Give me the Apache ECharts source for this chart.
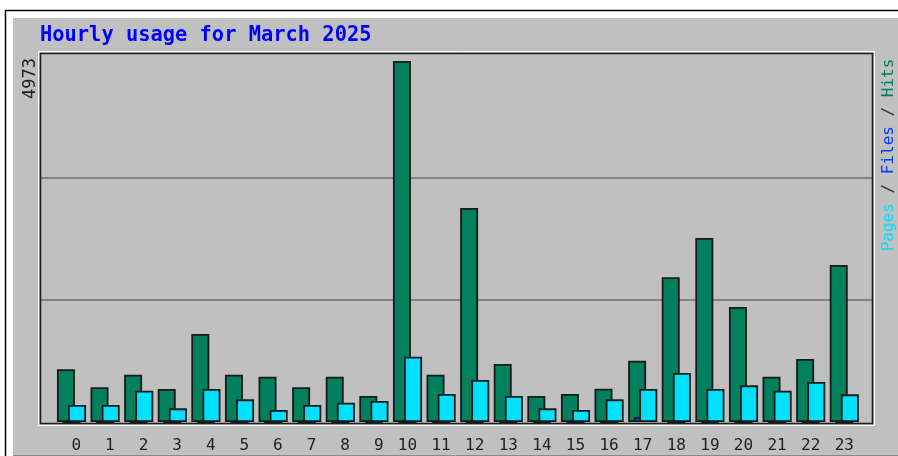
<!DOCTYPE html>
<html>
<head>
<meta charset="utf-8">
<script src="https://cdn.jsdelivr.net/npm/echarts@6/dist/echarts.min.js"></script>
<style>
body{margin:0;background:#fff;}
#chart{width:898px;height:456px;}
</style>
</head>
<body>
<div id="chart"></div>
<script>
/* ===== data ===== */

const hours=["0","1","2","3","4","5","6","7","8","9","10","11",
"12","13","14","15","16","17","18","19","20","21","22","23"];

const hits=[726,478,652,455,1212,652,624,478,624,358,4973,652,
2948,799,358,386,459,845,1993,2535,1584,624,868,2163];

const files=[0,0,0,0,0,0,0,0,0,0,0,0,
0,0,0,0,0,70,0,0,0,0,0,0];

const pages=[234,234,431,188,455,312,165,234,266,289,900,386,
579,358,188,165,312,455,675,455,505,431,551,381];

const maxLabel="4973";

const yMax=5055;


/* ===== chart ===== */

let chart=echarts.init(document.getElementById("chart"));

const mono="DejaVu Sans Mono";

function bar(name,data,color){
return {
name:name,
type:"bar",
xAxisIndex:1,
yAxisIndex:1,
data:data,
barWidth:18,
barGap:"-69%",
itemStyle:{color:color,borderColor:"#1a1a1a",borderWidth:1.8},
animation:false
};
}

chart.setOption({

backgroundColor:"#fff",

graphic:[
// outer frame
{type:"rect",z:0,shape:{x:13,y:18,width:890,height:437},style:{fill:"#c0c0c0"}},
{type:"line",z:1,shape:{x1:5,y1:10.5,x2:898,y2:10.5},style:{stroke:"#000",lineWidth:1.5}},
{type:"line",z:1,shape:{x1:5.5,y1:10,x2:5.5,y2:456},style:{stroke:"#000",lineWidth:1.5}},
{type:"line",z:1,shape:{x1:13,y1:455.5,x2:898,y2:455.5},style:{stroke:"#8a8a8a",lineWidth:1}},
// plot box
{type:"rect",z:100,shape:{x:38.5,y:51.5,width:836,height:374},style:{fill:null,stroke:"#fff",lineWidth:1}},
{type:"rect",z:100,shape:{x:40.5,y:53.5,width:832,height:370},style:{fill:null,stroke:"#1e1e1e",lineWidth:1.6}},
// title
{type:"text",z:100,x:40,y:36,style:{text:"Hourly usage for March 2025",font:"bold 20.4px "+mono,fill:"#0000ff",verticalAlign:"middle"}},
// max value
{type:"text",z:100,x:31,y:78.5,rotation:Math.PI/2,style:{text:maxLabel,font:"17px "+mono,fill:"#222",align:"center",verticalAlign:"middle"}},
// legend
{type:"text",z:100,x:889,y:155,rotation:Math.PI/2,style:{
text:"{p|Pages} {s|/} {f|Files} {s|/} {h|Hits}",
font:"16px "+mono,align:"center",verticalAlign:"middle",
rich:{
p:{fill:"#00e0ff",font:"16px "+mono},
s:{fill:"#333",font:"16px "+mono},
f:{fill:"#0040ff",font:"16px "+mono},
h:{fill:"#00805c",font:"16px "+mono}
}}}
],

grid:[
{left:41,right:26,top:55,bottom:34},
{left:54.7,right:36.9,top:55,bottom:34}
],

xAxis:[
{gridIndex:0,type:"value",min:0,max:1,show:false},
{gridIndex:1,type:"category",data:hours,
axisLine:{show:false},axisTick:{show:false},
axisLabel:{
formatter:v=>(v.length<2?" "+v:v),
fontFamily:mono,fontSize:16,color:"#222",margin:16
}}
],

yAxis:[
{gridIndex:0,type:"value",min:0,max:yMax,interval:yMax/3,
axisLabel:{show:false},axisLine:{show:false},axisTick:{show:false},
splitLine:{show:true,showMinLine:false,showMaxLine:false,lineStyle:{color:"#6e6e6e",width:1.5}}},
{gridIndex:1,type:"value",min:0,max:yMax,interval:yMax/3,show:false,splitLine:{show:false}}
],

series:[
bar("Hits",hits,"#00805c"),
bar("Files",files,"#0040ff"),
bar("Pages",pages,"#00e0ff")
]

});
</script>
</body>
</html>
